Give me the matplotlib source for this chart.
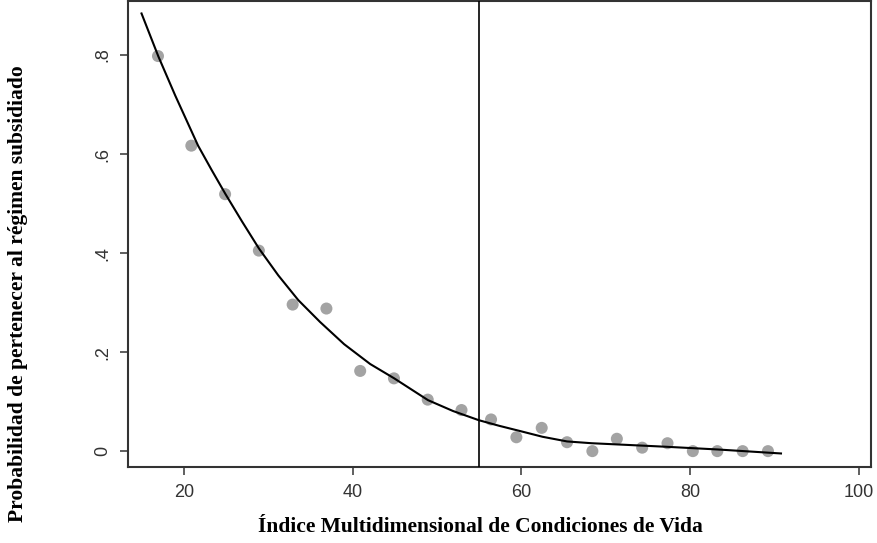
import numpy as np
import matplotlib.pyplot as plt

# observed binned means (x = index, y = share in subsidised regime)
bin_x = [16.95, 20.9, 24.9, 28.9, 32.9, 36.9, 40.9, 44.9, 48.9, 52.9,
         56.4, 59.4, 62.4, 65.4, 68.4, 71.3, 74.3, 77.3, 80.3, 83.2,
         86.2, 89.2]
bin_y = [0.798, 0.617, 0.519, 0.405, 0.296, 0.288, 0.162, 0.147, 0.104,
         0.083, 0.064, 0.028, 0.047, 0.018, 0.0, 0.025, 0.007, 0.016,
         0.0, 0.0, 0.0, 0.0]

# fitted curve
fit_x = [15, 17, 19, 21.7, 23.3, 24.95, 26.9, 28.9, 31.2, 33.57, 36.14,
         39, 42.08, 44.93, 48.93, 51.9, 54.93, 57.4, 59.88, 62.5, 65.4,
         68.3, 71.4, 77.3, 83.2, 90.74]
fit_y = [0.884, 0.797, 0.718, 0.617, 0.568, 0.519, 0.464, 0.4095, 0.355,
         0.305, 0.261, 0.216, 0.176, 0.147, 0.103, 0.081, 0.0626, 0.051,
         0.0404, 0.029, 0.0196, 0.016, 0.0135, 0.0087, 0.0034, -0.0047]

cutoff = 55
x_ticks = [20, 40, 60, 80, 100]
y_ticks = [0, 0.2, 0.4, 0.6, 0.8]
y_tick_labels = ["0", ".2", ".4", ".6", ".8"]

fig = plt.figure(figsize=(8.78, 5.43), dpi=100)
ax = fig.add_axes([0.1458, 0.140, 0.8462, 0.858])

ax.scatter(bin_x, bin_y, s=75, color="#a3a3a3", edgecolors="none", zorder=2)
ax.plot(fit_x, fit_y, color="black", lw=1.5, zorder=3,
        solid_joinstyle="round")
ax.axvline(cutoff, color="black", lw=1.2, zorder=3)

ax.set_xlim(13.4, 101.4)
ax.set_ylim(-0.032, 0.909)
ax.set_xticks(x_ticks)
ax.set_yticks(y_ticks)
ax.set_yticklabels(y_tick_labels, rotation=90, va="center")
ax.tick_params(axis="both", direction="out", length=6, width=1.2,
               color="#444444", labelsize=13, labelcolor="#333333")
ax.tick_params(axis="x", pad=6)
ax.tick_params(axis="y", pad=6)
for lab in ax.get_xticklabels() + ax.get_yticklabels():
    lab.set_fontfamily("Liberation Sans")

for side in ["left", "right", "top", "bottom"]:
    ax.spines[side].set_color("#333333")
    ax.spines[side].set_linewidth(1.5)

fig.text(0.547, 0.030, "Índice Multidimensional de Condiciones de Vida",
         ha="center", va="center", fontsize=15.5, fontweight="bold",
         family="Liberation Serif")
fig.text(0.020, 0.460, "Probabilidad de pertenecer al régimen subsidiado",
         ha="center", va="center", rotation=90, fontsize=15.5,
         fontweight="bold", family="Liberation Serif")

fig.savefig("out.png", dpi=100)
